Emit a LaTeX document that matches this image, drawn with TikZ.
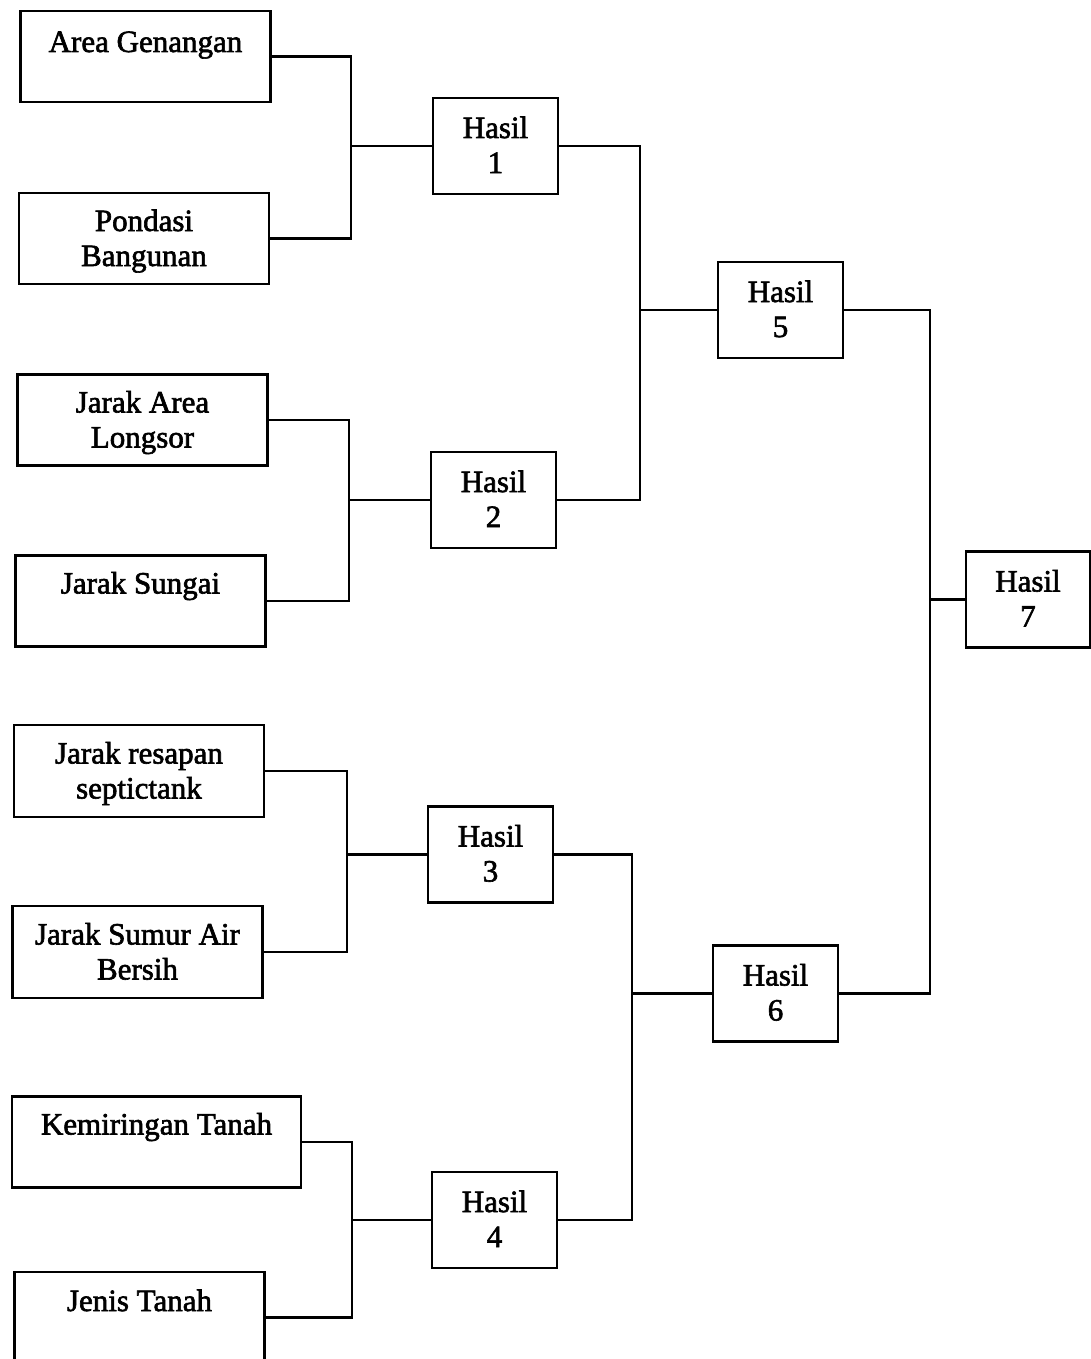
\documentclass[tikz,border=0pt]{standalone}
\usepackage{fontspec}
\setmainfont{Liberation Serif}[BoldFont=Liberation Serif, BoldFeatures={FakeBold=2}]
\tikzset{
	faktor/.style={draw, line width=1.4pt, minimum width=125pt, minimum height=45.5pt,
			inner sep=0pt, align=center, text height=27.5pt, text depth=0pt,
			font=\fontsize{15.5}{17.5}\selectfont\bfseries},
	satu/.style={text height=0pt, text depth=#1},
	satu/.default=7pt,
	hasil/.style={draw, line width=1.4pt, minimum width=62.5pt, minimum height=48pt,
			inner sep=0pt, align=center, text height=27pt, text depth=0pt,
			font=\fontsize{15.5}{17.5}\selectfont\bfseries},
	garis/.style={line width=1.4pt}
}

\begin{document}
\begin{tikzpicture}[x=0.5pt, y=-0.5pt]
			\useasboundingbox (0,0) rectangle (1091,1359);

			% Draw the input boxes
			\node[faktor, satu=4.5pt] (area) at (145.5,56.5) {Area Genangan};
			\node[faktor] (pondasi) at (144,238.5) {Pondasi\\Bangunan};
			\node[faktor] (longsor) at (142.5,420) {Jarak Area\\Longsor};
			\node[faktor, satu=7.5pt] (sungai) at (140.5,601) {Jarak Sungai};
			\node[faktor, minimum height=46pt] (septic) at (139,771) {Jarak resapan\\septictank};
			\node[faktor, minimum height=46pt] (sumur) at (137.5,952) {Jarak Sumur Air\\Bersih};
			\node[faktor, satu=7.5pt, minimum width=144.5pt] (miring) at (156.5,1142) {Kemiringan Tanah};
			\node[faktor, satu=6.5pt] (jenis) at (139.5,1317.5) {Jenis Tanah};

			% Draw the result boxes
			\node[hasil] (h1) at (495.5,146) {Hasil\\1};
			\node[hasil] (h2) at (493.5,500) {Hasil\\2};
			\node[hasil] (h3) at (490.5,854.5) {Hasil\\3};
			\node[hasil] (h4) at (494.5,1220) {Hasil\\4};
			\node[hasil] (h5) at (780.5,310) {Hasil\\5};
			\node[hasil] (h6) at (775.5,993.5) {Hasil\\6};
			\node[hasil, minimum width=62pt] (h7) at (1028,599.5) {Hasil\\7};

			% Place the joints
			\coordinate (j1) at (351,146);
			\coordinate (j2) at (349,500);
			\coordinate (j3) at (347,854.5);
			\coordinate (j4) at (352,1220);
			\coordinate (j5) at (640,310);
			\coordinate (j6) at (632,993.5);
			\coordinate (j7) at (930,599.5);

			% Draw the connecting lines
			\draw[garis] (area.east) -| (j1) (pondasi.east) -| (j1) -- (h1.west);
			\draw[garis] (longsor.east) -| (j2) (sungai.east) -| (j2) -- (h2.west);
			\draw[garis] (septic.east) -| (j3) (sumur.east) -| (j3) -- (h3.west);
			\draw[garis] (miring.east) -| (j4) (jenis.east) -| (j4) -- (h4.west);
			\draw[garis] (h1.east) -| (j5) (h2.east) -| (j5) -- (h5.west);
			\draw[garis] (h3.east) -| (j6) (h4.east) -| (j6) -- (h6.west);
			\draw[garis] (h5.east) -| (j7) (h6.east) -| (j7) -- (h7.west);
		\end{tikzpicture}
\end{document}
